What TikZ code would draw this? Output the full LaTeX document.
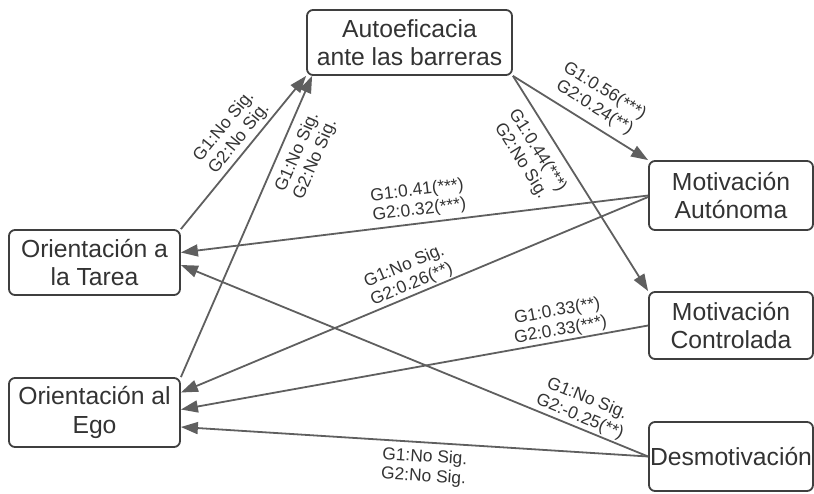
\documentclass[tikz,border=0pt]{standalone}
\usepackage{fontspec}
\setmainfont{Liberation Sans}
\usetikzlibrary{arrows.meta,calc}
\definecolor{edgegray}{HTML}{5F5F5F}
\definecolor{boxgray}{HTML}{3F3F3F}
\definecolor{txtgray}{HTML}{333333}
\begin{document}
\begin{tikzpicture}[x=1pt,y=-1pt,
  box/.style={draw=boxgray, line width=1.8pt, rounded corners=6pt, fill=white, inner sep=0pt, align=center, text=txtgray, font=\fontsize{24.7}{28.5}\selectfont},
  conn/.style={draw=edgegray, line width=1.8pt, -{Triangle[length=17pt,width=12pt]}},
  lbl/.style={font=\fontsize{17.4}{19.5}\selectfont, text=txtgray, align=center, inner sep=0pt, sloped}
]
\useasboundingbox (0,0) rectangle (814,493);
\node[box, minimum width=205pt, minimum height=65pt] (ae) at (409.5,42.5) {Autoeficacia\\ante las barreras};
\node[box, minimum width=164pt, minimum height=69pt] (ma) at (731,195.5) {Motivación\\Autónoma};
\node[box, minimum width=164pt, minimum height=67pt] (mc) at (731,325.5) {Motivación\\Controlada};
\node[box, minimum width=164pt, minimum height=69pt] (de) at (731,456.5) {Desmotivación};
\node[box, minimum width=171pt, minimum height=65pt] (ta) at (94.5,262.5) {Orientación a\\la Tarea};
\node[box, minimum width=171pt, minimum height=69pt] (eg) at (94.5,412.5) {Orientación al\\Ego};

\draw[conn] (ta.north east) -- (ae.south west)
  node[lbl, pos=0.54, above=3pt] {G1:No Sig.\\G2:No Sig.};
\draw[conn] (eg.north east) -- ([xshift=6pt]ae.south west)
  node[lbl, pos=0.77, below=8pt] {G1:No Sig.\\G2:No Sig.};
\draw[conn] (ae.south east) -- (ma.north west)
  node[lbl, pos=0.54, above=7pt] {G1:0.56(***)\\G2:0.24(**)};
\draw[conn] (ae.south east) -- (mc.north west)
  node[lbl, pos=0.30, below=10pt] {G1:0.44(***)\\G2:No Sig.};
\draw[conn] (ma.west) -- ([yshift=10pt]ta.east)
  node[lbl, pos=0.486, above=4pt] {G1:0.41(***)\\G2:0.32(***)};
\draw[conn] ([yshift=-1.5pt]ma.west) -- ([yshift=20pt]eg.east)
  node[lbl, pos=0.497, above=1.5pt] {G1:No Sig.\\G2:0.26(**)};
\draw[conn] (mc.west) -- ([yshift=3pt]eg.east)
  node[lbl, pos=0.183, above=1.5pt] {G1:0.33(**)\\G2:0.33(***)};
\draw[conn] (de.west) -- ([yshift=-2.5pt]ta.east)
  node[lbl, pos=0.155, above=1.5pt] {G1:No Sig.\\G2:-0.25(**)};
\draw[conn] (de.west) -- ([yshift=-14.5pt]eg.east)
  node[lbl, pos=0.476, below=6pt] {G1:No Sig.\\G2:No Sig.};
\end{tikzpicture}
\end{document}
